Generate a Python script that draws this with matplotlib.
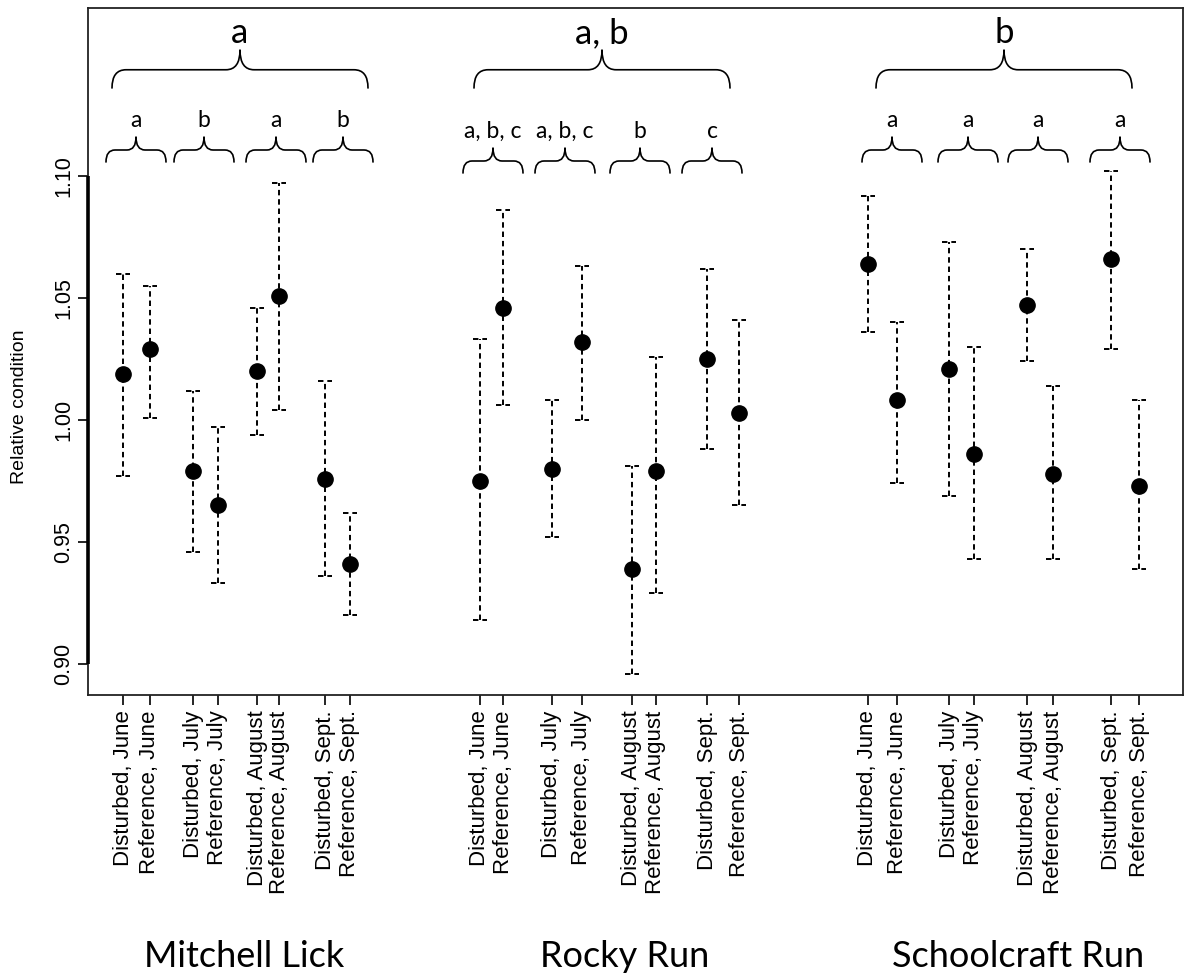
import matplotlib
matplotlib.use("Agg")
import matplotlib.pyplot as plt
from matplotlib.path import Path
from matplotlib.patches import PathPatch

# data
sites = ["Mitchell Lick", "Rocky Run", "Schoolcraft Run"]
tick_labels = ["Disturbed, June", "Reference, June", "Disturbed, July", "Reference, July",
               "Disturbed, August", "Reference, August", "Disturbed, Sept.", "Reference, Sept."] * 3

means_ml = [1.019, 1.029, 0.979, 0.965, 1.020, 1.051, 0.976, 0.941]
upper_ml = [1.060, 1.055, 1.012, 0.997, 1.046, 1.097, 1.016, 0.962]
lower_ml = [0.977, 1.001, 0.946, 0.933, 0.994, 1.004, 0.936, 0.920]

means_rr = [0.975, 1.046, 0.980, 1.032, 0.939, 0.979, 1.025, 1.003]
upper_rr = [1.033, 1.086, 1.008, 1.063, 0.981, 1.026, 1.062, 1.041]
lower_rr = [0.918, 1.006, 0.952, 1.000, 0.896, 0.929, 0.988, 0.965]

means_sr = [1.064, 1.008, 1.021, 0.986, 1.047, 0.978, 1.066, 0.973]
upper_sr = [1.092, 1.040, 1.073, 1.030, 1.070, 1.014, 1.102, 1.008]
lower_sr = [1.036, 0.974, 0.969, 0.943, 1.024, 0.943, 1.029, 0.939]

site_letters = ["a", "a, b", "b"]
month_letters = [["a", "b", "a", "b"],
                 ["a, b, c", "a, b, c", "b", "c"],
                 ["a", "a", "a", "a"]]

yticks = [0.90, 0.95, 1.00, 1.05, 1.10]

# layout (pixel positions along the x axis)
xpos = [123, 150, 193, 218, 257, 279, 325, 350,
        480, 503, 552, 582, 632, 656, 707, 739,
        868, 897, 949, 974, 1027, 1053, 1111, 1139]
small_brace_x = [[136, 204, 276, 343], [493, 565, 640, 712], [892, 968, 1038, 1120]]
big_brace_x = [240, 602, 1004]
site_label_x = [244, 625, 1018]

means = means_ml + means_rr + means_sr
upper = upper_ml + upper_rr + upper_sr
lower = lower_ml + lower_rr + lower_sr

W, H = 1184, 973
fig = plt.figure(figsize=(W / 100, H / 100), dpi=100)

ax_l, ax_r, ax_t, ax_b = 88, 1183, 8, 695
ax = fig.add_axes([ax_l / W, 1 - ax_b / H, (ax_r - ax_l) / W, (ax_b - ax_t) / H])
ax.set_xlim(ax_l, ax_r)
# 2440 px per unit, 1.00 at y=420 px
ax.set_ylim(1.0 - (ax_b - 420) / 2440, 1.0 + (420 - ax_t) / 2440)

dash = (0, (2.8, 2.0))
ax.vlines(xpos, lower, upper, colors="black", linestyles=[dash], lw=1.4, zorder=2)
ax.hlines(upper, [x - 7 for x in xpos], [x + 7 for x in xpos], colors="black",
          linestyles=[dash], lw=1.4, zorder=2)
ax.hlines(lower, [x - 7 for x in xpos], [x + 7 for x in xpos], colors="black",
          linestyles=[dash], lw=1.4, zorder=2)
ax.plot(xpos, means, "o", ms=11, color="black", zorder=3)

tick_font = "Liberation Sans"
ax.set_xticks(xpos)
ax.set_xticklabels(tick_labels, rotation=90, fontsize=16, family=tick_font)
ax.set_yticks(yticks)
ax.set_yticklabels([f"{v:.2f}" for v in yticks], rotation=90, va="center",
                   fontsize=15.5, family=tick_font)
ax.tick_params(axis="x", length=7, width=1.2, pad=4)
ax.tick_params(axis="y", length=7, width=1.2, pad=3)
for s in ax.spines.values():
    s.set_linewidth(1.3)
    s.set_color("#222222")
# heavier axis line over the tick range, R style
ax.plot([ax_l, ax_l], [yticks[0], yticks[-1]], color="black", lw=2.6,
        clip_on=False, solid_capstyle="butt", zorder=5)

# overlay in pixel coordinates for braces and text
ov = fig.add_axes([0, 0, 1, 1])
ov.set_xlim(0, W)
ov.set_ylim(H, 0)
ov.axis("off")
ov.patch.set_alpha(0)


def brace(xc, half, ytip, height, r, lw=1.2):
    x0, x1 = xc - half, xc + half
    yb = ytip + height
    yh = ytip + height * 0.52
    verts = [(x0, yb), (x0, yh), (x0 + r, yh),
             (xc - r, yh), (xc, yh), (xc, ytip),
             (xc, yh), (xc + r, yh),
             (x1 - r, yh), (x1, yh), (x1, yb)]
    codes = [Path.MOVETO, Path.CURVE3, Path.CURVE3,
             Path.LINETO, Path.CURVE3, Path.CURVE3,
             Path.CURVE3, Path.CURVE3,
             Path.LINETO, Path.CURVE3, Path.CURVE3]
    ov.add_patch(PathPatch(Path(verts, codes), fill=False, lw=lw, color="black",
                           capstyle="round", joinstyle="round"))


ann_font = "Lato"
for i in range(3):
    brace(big_brace_x[i], 128, 50, 38, 14)
    ov.text(big_brace_x[i], 43, site_letters[i], ha="center", va="baseline",
            fontsize=25, family=ann_font)
    ytip = 148 if i == 1 else 137
    for j in range(4):
        brace(small_brace_x[i][j], 30, ytip, 25, 9)
        ov.text(small_brace_x[i][j], ytip - 10, month_letters[i][j], ha="center",
                va="baseline", fontsize=16.5, family=ann_font)
    ov.text(site_label_x[i], 967, sites[i], ha="center", va="baseline",
            fontsize=26, family=ann_font)

ov.text(20, 407, "Relative condition", rotation=90, ha="center", va="center",
        fontsize=14, family=tick_font)

fig.savefig("out.png", dpi=100)
